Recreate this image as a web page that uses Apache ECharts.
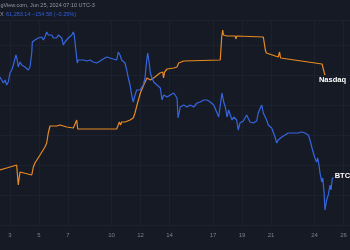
<!DOCTYPE html>
<html><head><meta charset="utf-8">
<script src="https://cdn.jsdelivr.net/npm/echarts@6/dist/echarts.min.js"></script>
<style>html,body{margin:0;padding:0;background:#161a25;}#c{width:350px;height:250px;}</style>
</head><body><div id="c"></div>
<script>
// Day of June 2024 (fractional)
var tickDays = [3, 5, 7, 10, 12, 14, 17, 19, 21, 24, 26];
var btcDays = [2.31,2.43,2.54,2.66,2.77,2.88,3.00,3.12,3.23,3.34,3.41,3.50,3.57,3.69,3.81,3.92,4.03,4.15,4.26,4.38,4.50,4.54,4.61,4.72,4.84,4.95,5.07,5.19,5.30,5.41,5.53,5.64,5.76,5.88,5.99,6.10,6.22,6.33,6.45,6.57,6.68,6.79,6.91,7.02,7.14,7.26,7.37,7.43,7.55,7.64,7.71,7.83,8.06,8.29,8.52,8.74,8.98,9.21,9.43,9.67,9.90,10.12,10.36,10.47,10.59,10.70,10.81,10.93,11.05,11.16,11.28,11.39,11.50,11.62,11.74,11.85,11.97,12.08,12.19,12.31,12.43,12.50,12.59,12.68,12.79,12.91,13.02,13.14,13.26,13.37,13.48,13.60,13.83,14.06,14.29,14.38,14.52,14.59,14.74,14.98,15.21,15.43,15.67,15.90,16.12,16.36,16.47,16.59,16.81,17.05,17.28,17.39,17.62,17.74,17.85,17.97,18.08,18.31,18.43,18.63,18.74,18.86,19.09,19.32,19.55,19.78,20.01,20.12,20.36,20.47,20.70,20.81,21.05,21.28,21.39,21.50,21.62,21.74,21.97,22.19,22.43,22.66,22.88,23.12,23.34,23.57,23.69,23.81,23.92,24.03,24.15,24.22,24.31,24.38,24.50,24.57,24.66,24.72,24.84,24.95,25.07,25.14,25.23,25.32];
var btcValues = [14.8,14.8,14.2,14.5,14.0,14.3,15.2,15.5,16.0,16.2,17.0,16.5,15.8,16.3,16.0,16.2,15.8,16.0,15.5,15.8,17.2,18.3,18.2,18.5,18.3,18.7,18.5,18.8,18.5,18.8,19.3,19.0,18.8,19.0,18.7,18.8,18.7,19.0,19.2,18.7,18.0,18.3,18.5,18.7,18.5,19.0,19.3,19.0,18.8,16.2,16.5,16.3,16.5,16.4,16.5,16.3,16.2,16.4,16.6,16.8,16.7,16.6,16.5,17.3,17.0,16.5,16.7,16.2,15.5,14.7,14.0,13.0,12.3,13.0,13.5,13.7,13.5,13.7,14.0,14.7,16.5,17.2,16.3,15.2,14.7,14.3,14.5,14.0,14.2,13.7,12.5,13.0,12.8,13.0,13.2,13.2,12.7,10.7,11.8,12.0,11.8,12.0,11.8,12.2,12.3,12.5,12.7,12.5,12.3,12.0,11.2,10.8,13.2,12.3,11.8,10.8,11.5,10.5,10.8,10.5,9.5,10.2,10.4,11.0,10.3,10.2,10.4,11.2,12.0,11.2,10.5,10.0,9.7,8.8,8.2,8.5,8.3,8.8,9.0,9.2,9.2,9.2,9.2,9.3,9.2,9.0,8.5,7.8,7.2,6.7,6.3,6.7,6.0,5.2,4.3,4.7,3.3,1.5,2.5,3.0,4.0,3.5,4.7,4.7];
var ndxDays = [2.31,2.77,3.46,3.57,3.69,3.81,4.50,4.61,4.72,5.07,5.41,5.53,5.64,5.76,6.22,6.45,6.57,6.91,7.37,7.48,7.60,7.67,9.21,10.36,10.47,10.54,10.63,10.70,10.93,11.28,11.50,11.62,11.76,11.99,12.22,12.45,12.68,13.00,13.34,13.53,13.59,13.66,13.83,14.29,14.52,14.63,14.74,14.98,17.50,17.60,17.67,17.72,17.97,18.52,18.59,18.63,20.47,20.55,20.61,20.68,20.79,21.50,21.59,21.66,21.74,24.52,24.62,24.68,24.72];
var ndxValues = [5.5,5.7,6.0,4.0,5.3,5.3,5.0,5.8,6.2,7.0,7.8,8.2,9.2,9.9,9.9,10.0,9.8,9.8,9.7,9.7,10.5,9.6,9.6,9.6,9.7,10.3,10.0,10.3,10.3,10.5,10.7,11.2,12.0,13.2,14.0,14.7,14.5,14.8,15.2,15.3,14.7,15.3,15.6,15.7,15.8,16.2,16.3,16.4,16.5,18.8,19.5,19.0,18.9,18.9,18.6,18.9,18.8,18.6,17.5,17.2,17.3,16.8,17.3,16.7,16.7,16.1,15.9,15.2,15.0];
var seriesNames = ['BTC', 'Nasdaq'];
var headerLine1 = 'TradingView.com, Jun 25, 2024 07:10 UTC-3';
var headerX = 'X';
var headerQuote = '61,283.14 \u2212154.58 (\u22120.25%)';

function build(days, vals) {
  return days.map(function (d, i) { return [d, vals[i]]; });
}
var labelFont = { color: '#ffffff', fontWeight: 'bold', fontSize: 7.5, fontFamily: 'Liberation Sans, Arial, sans-serif' };

var chart = echarts.init(document.getElementById('c'), null, { renderer: 'canvas' });
chart.setOption({
  backgroundColor: '#161a25',
  animation: false,
  grid: { left: 0, right: 0, top: 20, bottom: 25 },
  xAxis: {
    type: 'value', min: 3 - 10 / 14.5, max: 3 + 340 / 14.5,
    axisLine: { show: false },
    axisTick: { show: false, customValues: tickDays },
    axisLabel: { customValues: tickDays, color: '#7c808b', fontSize: 6, margin: 7, fontFamily: 'Liberation Sans, Arial, sans-serif' },
    splitLine: { show: true, lineStyle: { color: '#1c2130', width: 1 } }
  },
  yAxis: {
    type: 'value', min: 0, max: 20.5, interval: 3,
    axisLine: { show: false }, axisTick: { show: false }, axisLabel: { show: false },
    splitLine: { show: true, lineStyle: { color: '#1c2130', width: 1 } }
  },
  series: [
    { name: seriesNames[1], type: 'line', showSymbol: false, symbol: 'none', data: build(ndxDays, ndxValues),
      lineStyle: { color: '#e88a22', width: 1.2 }, itemStyle: { color: '#e88a22' }, clip: false,
      endLabel: Object.assign({ show: true, distance: 0, offset: [-6, 5], formatter: seriesNames[1] }, labelFont) },
    { name: seriesNames[0], type: 'line', showSymbol: false, symbol: 'none', data: build(btcDays, btcValues),
      lineStyle: { color: '#3566e0', width: 1.2 }, itemStyle: { color: '#3566e0' }, clip: false,
      endLabel: Object.assign({ show: true, distance: 1, offset: [0, -2], formatter: seriesNames[0] }, labelFont) }
  ],
  graphic: [
    { type: 'text', left: -15, top: 2, style: { text: headerLine1, fill: '#9598a1', fontSize: 5.5, fontFamily: 'Liberation Sans, Arial, sans-serif' } },
    { type: 'text', left: 0, top: 11, style: { text: headerX, fill: '#9598a1', fontSize: 5.5, fontFamily: 'Liberation Sans, Arial, sans-serif' } },
    { type: 'text', left: 6, top: 11, style: { text: headerQuote, fill: '#2f5fe0', fontSize: 5.5, fontFamily: 'Liberation Sans, Arial, sans-serif' } }
  ]
});
</script></body></html>
